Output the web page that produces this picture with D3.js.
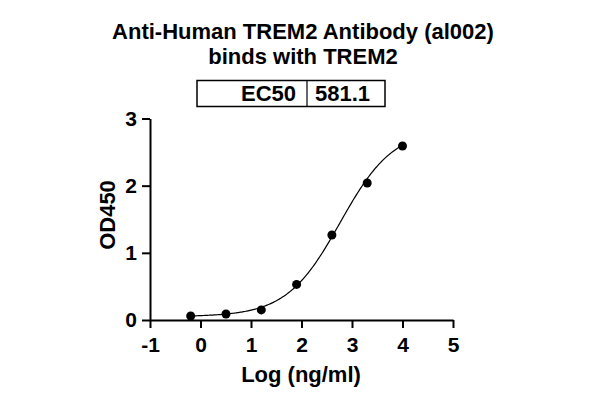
<!DOCTYPE html>
<html><head><meta charset="utf-8">
<script src="https://cdn.jsdelivr.net/npm/d3@7"></script>
<style>
body{margin:0;background:#fff}
svg{display:block}
text{font-family:"Liberation Sans",Arial,sans-serif;font-weight:bold;fill:#000}
</style>
</head><body>
<svg id="c" width="600" height="403"></svg>
<script>
// Data
const logConc = [-0.194, 0.505, 1.204, 1.903, 2.602, 3.301, 4.0];
const od450 = [0.06, 0.09, 0.15, 0.53, 1.265, 2.04, 2.59];
const xTicks = [-1, 0, 1, 2, 3, 4, 5];
const yTicks = [0, 1, 2, 3];
const titleLines = ["Anti-Human TREM2 Antibody (al002)", "binds with TREM2"];
const ec50Label = "EC50";
const ec50Value = "581.1";
// 4PL fit parameters
const fitBottom = 0.05, fitTop = 2.85, fitHill = 0.82, fitLogEC50 = Math.log10(581.1);

const svg = d3.select("#c");
const x = d3.scaleLinear().domain([-1, 5]).range([150, 453]);
const y = d3.scaleLinear().domain([0, 3]).range([320, 118.5]);

// Title
svg.selectAll("text.title").data(titleLines).enter().append("text")
  .attr("class", "title")
  .attr("x", 303).attr("y", (d, i) => 38.5 + i * 25)
  .attr("text-anchor", "middle").style("font-size", "22px").text(d => d);

// EC50 box
const box = svg.append("g");
box.append("rect").attr("x", 197).attr("y", 80.5).attr("width", 188).attr("height", 26)
  .attr("fill", "none").attr("stroke", "#000").attr("stroke-width", 1.5);
box.append("line").attr("x1", 307).attr("x2", 307).attr("y1", 80.5).attr("y2", 106.5)
  .attr("stroke", "#000").attr("stroke-width", 1.2);
box.append("text").attr("x", 296).attr("y", 101).attr("text-anchor", "end")
  .style("font-size", "22px").text(ec50Label);
box.append("text").attr("x", 315).attr("y", 101).attr("text-anchor", "start")
  .style("font-size", "22px").text(ec50Value);

// Axes
const xAxis = svg.append("g").attr("transform", "translate(0,320)")
  .call(d3.axisBottom(x).tickValues(xTicks).tickFormat(d3.format("d")).tickSize(8).tickPadding(9).tickSizeOuter(0));
const yAxis = svg.append("g").attr("transform", "translate(150,0)")
  .call(d3.axisLeft(y).tickValues(yTicks).tickFormat(d3.format("d")).tickSize(8).tickPadding(5).tickSizeOuter(0));
[xAxis, yAxis].forEach(a => {
  a.selectAll("path,line").attr("stroke", "#000").attr("stroke-width", 2);
  a.selectAll("text").style("font-size", "21px").attr("fill", "#000")
    .style("font-family", '"Liberation Sans",Arial,sans-serif').style("font-weight", "bold");
});
xAxis.selectAll("text").text(d => d < 0 ? "-" + Math.abs(d) : d);

// Axis titles
svg.append("text").attr("x", 301).attr("y", 382).attr("text-anchor", "middle")
  .style("font-size", "22px").text("Log (ng/ml)");
svg.append("text").attr("transform", "translate(115,215) rotate(-90)").attr("text-anchor", "middle")
  .style("font-size", "22px").text("OD450");

// Fit curve
const fit = v => fitBottom + (fitTop - fitBottom) / (1 + Math.pow(10, (fitLogEC50 - v) * fitHill));
const xs = d3.range(0, 201).map(i => logConc[0] + (logConc[logConc.length - 1] - logConc[0]) * i / 200);
svg.append("path").datum(xs)
  .attr("d", d3.line().x(d => x(d)).y(d => y(fit(d))))
  .attr("fill", "none").attr("stroke", "#000").attr("stroke-width", 1.2);

// Points
svg.selectAll("circle").data(logConc).enter().append("circle")
  .attr("cx", d => x(d)).attr("cy", (d, i) => y(od450[i])).attr("r", 4.5).attr("fill", "#000");
</script>
</body></html>
